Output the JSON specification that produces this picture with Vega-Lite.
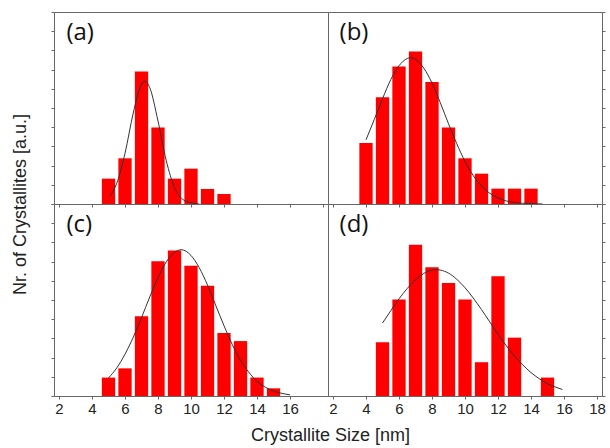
{
  "$schema": "https://vega.github.io/schema/vega-lite/v6.json",
  "padding": {"left": 11, "top": 11, "right": 4, "bottom": 5},
  "background": "white",
  "config": {
    "view": {"stroke": "#666", "strokeWidth": 1},
    "axis": {"domain": false, "grid": false, "tickColor": "#666", "tickSize": 3, "labelFont": "Liberation Sans", "labelFontSize": 15, "labelColor": "#222", "labelPadding": 2, "labelFlush": false, "labelOverlap": false, "titleFont": "Liberation Sans", "titleFontSize": 18, "titleFontWeight": "normal", "titleColor": "#222"}
  },
  "datasets": {
    "bars": [
      {"panel": "a", "size": 5, "count": 0.66}, {"panel": "a", "size": 6, "count": 1.19}, {"panel": "a", "size": 7, "count": 3.45}, {"panel": "a", "size": 8, "count": 1.99}, {"panel": "a", "size": 9, "count": 0.66}, {"panel": "a", "size": 10, "count": 0.92}, {"panel": "a", "size": 11, "count": 0.39}, {"panel": "a", "size": 12, "count": 0.26},
      {"panel": "b", "size": 4, "count": 1.59}, {"panel": "b", "size": 5, "count": 2.78}, {"panel": "b", "size": 6, "count": 3.58}, {"panel": "b", "size": 7, "count": 3.97}, {"panel": "b", "size": 8, "count": 3.18}, {"panel": "b", "size": 9, "count": 1.99}, {"panel": "b", "size": 10, "count": 1.19}, {"panel": "b", "size": 11, "count": 0.79}, {"panel": "b", "size": 12, "count": 0.4}, {"panel": "b", "size": 13, "count": 0.4}, {"panel": "b", "size": 14, "count": 0.4},
      {"panel": "c", "size": 5, "count": 0.48}, {"panel": "c", "size": 6, "count": 0.72}, {"panel": "c", "size": 7, "count": 2.08}, {"panel": "c", "size": 8, "count": 3.51}, {"panel": "c", "size": 9, "count": 3.79}, {"panel": "c", "size": 10, "count": 3.39}, {"panel": "c", "size": 11, "count": 2.87}, {"panel": "c", "size": 12, "count": 1.64}, {"panel": "c", "size": 13, "count": 1.43}, {"panel": "c", "size": 14, "count": 0.48}, {"panel": "c", "size": 15, "count": 0.2},
      {"panel": "d", "size": 5, "count": 1.4}, {"panel": "d", "size": 6, "count": 2.51}, {"panel": "d", "size": 7, "count": 3.94}, {"panel": "d", "size": 8, "count": 3.35}, {"panel": "d", "size": 9, "count": 2.94}, {"panel": "d", "size": 10, "count": 2.51}, {"panel": "d", "size": 11, "count": 0.88}, {"panel": "d", "size": 12, "count": 3.12}, {"panel": "d", "size": 13, "count": 1.52}, {"panel": "d", "size": 15, "count": 0.48}
    ],
    "fits": [
      {"panel": "a", "size": 5.1, "count": 0.21}, {"panel": "a", "size": 5.5, "count": 0.54}, {"panel": "a", "size": 6.0, "count": 1.32}, {"panel": "a", "size": 6.5, "count": 2.37}, {"panel": "a", "size": 7.0, "count": 3.12}, {"panel": "a", "size": 7.2, "count": 3.2}, {"panel": "a", "size": 7.5, "count": 3.03}, {"panel": "a", "size": 8.0, "count": 2.16}, {"panel": "a", "size": 8.5, "count": 1.13}, {"panel": "a", "size": 9.0, "count": 0.43}, {"panel": "a", "size": 9.5, "count": 0.12}, {"panel": "a", "size": 10.0, "count": 0.03}, {"panel": "a", "size": 10.5, "count": 0.0},
      {"panel": "b", "size": 4.0, "count": 1.67}, {"panel": "b", "size": 4.5, "count": 2.2}, {"panel": "b", "size": 5.0, "count": 2.74}, {"panel": "b", "size": 5.5, "count": 3.24}, {"panel": "b", "size": 6.0, "count": 3.6}, {"panel": "b", "size": 6.5, "count": 3.79}, {"panel": "b", "size": 6.7, "count": 3.81}, {"panel": "b", "size": 7.0, "count": 3.77}, {"panel": "b", "size": 7.5, "count": 3.54}, {"panel": "b", "size": 8.0, "count": 3.15}, {"panel": "b", "size": 8.5, "count": 2.64}, {"panel": "b", "size": 9.0, "count": 2.09}, {"panel": "b", "size": 9.5, "count": 1.57}, {"panel": "b", "size": 10.0, "count": 1.11}, {"panel": "b", "size": 10.5, "count": 0.74}, {"panel": "b", "size": 11.0, "count": 0.47}, {"panel": "b", "size": 11.5, "count": 0.28}, {"panel": "b", "size": 12.0, "count": 0.16}, {"panel": "b", "size": 12.5, "count": 0.08}, {"panel": "b", "size": 13.0, "count": 0.04}, {"panel": "b", "size": 13.5, "count": 0.02}, {"panel": "b", "size": 14.0, "count": 0.01}, {"panel": "b", "size": 14.7, "count": 0.0},
      {"panel": "c", "size": 5.0, "count": 0.47}, {"panel": "c", "size": 5.5, "count": 0.73}, {"panel": "c", "size": 6.0, "count": 1.09}, {"panel": "c", "size": 6.5, "count": 1.53}, {"panel": "c", "size": 7.0, "count": 2.04}, {"panel": "c", "size": 7.5, "count": 2.58}, {"panel": "c", "size": 8.0, "count": 3.08}, {"panel": "c", "size": 8.5, "count": 3.49}, {"panel": "c", "size": 9.0, "count": 3.74}, {"panel": "c", "size": 9.4, "count": 3.81}, {"panel": "c", "size": 10.0, "count": 3.66}, {"panel": "c", "size": 10.5, "count": 3.34}, {"panel": "c", "size": 11.0, "count": 2.89}, {"panel": "c", "size": 11.5, "count": 2.36}, {"panel": "c", "size": 12.0, "count": 1.83}, {"panel": "c", "size": 12.5, "count": 1.34}, {"panel": "c", "size": 13.0, "count": 0.93}, {"panel": "c", "size": 13.5, "count": 0.62}, {"panel": "c", "size": 14.0, "count": 0.38}, {"panel": "c", "size": 14.5, "count": 0.23}, {"panel": "c", "size": 15.0, "count": 0.13}, {"panel": "c", "size": 15.5, "count": 0.07}, {"panel": "c", "size": 16.0, "count": 0.03},
      {"panel": "d", "size": 5.0, "count": 1.9}, {"panel": "d", "size": 5.5, "count": 2.22}, {"panel": "d", "size": 6.0, "count": 2.53}, {"panel": "d", "size": 6.5, "count": 2.8}, {"panel": "d", "size": 7.0, "count": 3.03}, {"panel": "d", "size": 7.5, "count": 3.19}, {"panel": "d", "size": 8.0, "count": 3.28}, {"panel": "d", "size": 8.3, "count": 3.29}, {"panel": "d", "size": 8.5, "count": 3.28}, {"panel": "d", "size": 9.0, "count": 3.2}, {"panel": "d", "size": 9.5, "count": 3.04}, {"panel": "d", "size": 10.0, "count": 2.82}, {"panel": "d", "size": 10.5, "count": 2.55}, {"panel": "d", "size": 11.0, "count": 2.25}, {"panel": "d", "size": 11.5, "count": 1.93}, {"panel": "d", "size": 12.0, "count": 1.61}, {"panel": "d", "size": 12.5, "count": 1.31}, {"panel": "d", "size": 13.0, "count": 1.04}, {"panel": "d", "size": 13.5, "count": 0.81}, {"panel": "d", "size": 14.0, "count": 0.61}, {"panel": "d", "size": 14.5, "count": 0.45}, {"panel": "d", "size": 15.0, "count": 0.32}, {"panel": "d", "size": 15.5, "count": 0.23}, {"panel": "d", "size": 15.9, "count": 0.17}
    ]
  },
  "columns": 2,
  "spacing": 0,
  "bounds": "flush",
  "concat": [
    {
      "width": 274, "height": 192,
      "layer": [
        {"data": {"name": "bars"}, "transform": [{"filter": "datum.panel === 'a'"}],
         "mark": {"type": "bar", "width": 13.3, "color": "#ff0000"},
         "encoding": {
           "x": {"field": "size", "type": "quantitative", "scale": {"domain": [2, 18], "nice": false}, "axis": {"orient": "bottom", "values": [2, 4, 6, 8, 10, 12, 14, 16, 18], "tickCount": 40, "labels": false, "title": null}},
           "y": {"field": "count", "type": "quantitative", "scale": {"domain": [0, 5], "nice": false}, "axis": {"orient": "left", "values": [0, 0.5, 1, 1.5, 2, 2.5, 3, 3.5, 4, 4.5, 5], "tickCount": 40, "labels": false, "title": "Nr. of Crystallites [a.u.]", "titleY": 192, "titlePadding": 21}}
         }},
        {"data": {"name": "fits"}, "transform": [{"filter": "datum.panel === 'a'"}],
         "mark": {"type": "line", "color": "#333", "strokeWidth": 1, "interpolate": "monotone"},
         "encoding": {"x": {"field": "size", "type": "quantitative"}, "y": {"field": "count", "type": "quantitative"}}},
        {"data": {"values": [{"label": "(a)"}]},
         "mark": {"type": "text", "font": "Open Sans", "fontSize": 24, "align": "left", "baseline": "middle", "color": "#111"},
         "encoding": {"x": {"datum": 2.45, "type": "quantitative"}, "y": {"datum": 4.45, "type": "quantitative"}, "text": {"field": "label"}}}
      ]
    },
    {
      "width": 274, "height": 192,
      "layer": [
        {"data": {"name": "bars"}, "transform": [{"filter": "datum.panel === 'b'"}],
         "mark": {"type": "bar", "width": 13.3, "color": "#ff0000"},
         "encoding": {
           "x": {"field": "size", "type": "quantitative", "scale": {"domain": [2, 18], "nice": false}, "axis": {"orient": "bottom", "values": [2, 4, 6, 8, 10, 12, 14, 16, 18], "tickCount": 40, "labels": false, "title": null}},
           "y": {"field": "count", "type": "quantitative", "scale": {"domain": [0, 5], "nice": false}, "axis": {"orient": "right", "values": [0, 0.5, 1, 1.5, 2, 2.5, 3, 3.5, 4, 4.5, 5], "tickCount": 40, "labels": false, "title": null}}
         }},
        {"data": {"name": "fits"}, "transform": [{"filter": "datum.panel === 'b'"}],
         "mark": {"type": "line", "color": "#333", "strokeWidth": 1, "interpolate": "monotone"},
         "encoding": {"x": {"field": "size", "type": "quantitative"}, "y": {"field": "count", "type": "quantitative"}}},
        {"data": {"values": [{"label": "(b)"}]},
         "mark": {"type": "text", "font": "Open Sans", "fontSize": 24, "align": "left", "baseline": "middle", "color": "#111"},
         "encoding": {"x": {"datum": 2.4, "type": "quantitative"}, "y": {"datum": 4.45, "type": "quantitative"}, "text": {"field": "label"}}}
      ]
    },
    {
      "width": 274, "height": 192,
      "layer": [
        {"data": {"name": "bars"}, "transform": [{"filter": "datum.panel === 'c'"}],
         "mark": {"type": "bar", "width": 13.3, "color": "#ff0000"},
         "encoding": {
           "x": {"field": "size", "type": "quantitative", "scale": {"domain": [2, 18], "nice": false}, "axis": {"orient": "bottom", "values": [2, 4, 6, 8, 10, 12, 14, 16], "tickCount": 40, "format": "d", "labelOverlap": false, "title": "Crystallite Size [nm]", "titleX": 276, "titlePadding": 10}},
           "y": {"field": "count", "type": "quantitative", "scale": {"domain": [0, 5], "nice": false}, "axis": {"orient": "left", "values": [0, 0.5, 1, 1.5, 2, 2.5, 3, 3.5, 4, 4.5, 5], "tickCount": 40, "labels": false, "title": null}}
         }},
        {"data": {"name": "fits"}, "transform": [{"filter": "datum.panel === 'c'"}],
         "mark": {"type": "line", "color": "#333", "strokeWidth": 1, "interpolate": "monotone"},
         "encoding": {"x": {"field": "size", "type": "quantitative"}, "y": {"field": "count", "type": "quantitative"}}},
        {"data": {"values": [{"label": "(c)"}]},
         "mark": {"type": "text", "font": "Open Sans", "fontSize": 24, "align": "left", "baseline": "middle", "color": "#111"},
         "encoding": {"x": {"datum": 2.45, "type": "quantitative"}, "y": {"datum": 4.45, "type": "quantitative"}, "text": {"field": "label"}}}
      ]
    },
    {
      "width": 274, "height": 192,
      "layer": [
        {"data": {"name": "bars"}, "transform": [{"filter": "datum.panel === 'd'"}],
         "mark": {"type": "bar", "width": 13.3, "color": "#ff0000"},
         "encoding": {
           "x": {"field": "size", "type": "quantitative", "scale": {"domain": [2, 18], "nice": false}, "axis": {"orient": "bottom", "values": [2, 4, 6, 8, 10, 12, 14, 16, 18], "tickCount": 40, "format": "d", "labelOverlap": false, "title": null}},
           "y": {"field": "count", "type": "quantitative", "scale": {"domain": [0, 5], "nice": false}, "axis": {"orient": "right", "values": [0, 0.5, 1, 1.5, 2, 2.5, 3, 3.5, 4, 4.5, 5], "tickCount": 40, "labels": false, "title": null}}
         }},
        {"data": {"name": "fits"}, "transform": [{"filter": "datum.panel === 'd'"}],
         "mark": {"type": "line", "color": "#333", "strokeWidth": 1, "interpolate": "monotone"},
         "encoding": {"x": {"field": "size", "type": "quantitative"}, "y": {"field": "count", "type": "quantitative"}}},
        {"data": {"values": [{"label": "(d)"}]},
         "mark": {"type": "text", "font": "Open Sans", "fontSize": 24, "align": "left", "baseline": "middle", "color": "#111"},
         "encoding": {"x": {"datum": 2.4, "type": "quantitative"}, "y": {"datum": 4.45, "type": "quantitative"}, "text": {"field": "label"}}}
      ]
    }
  ]
}
